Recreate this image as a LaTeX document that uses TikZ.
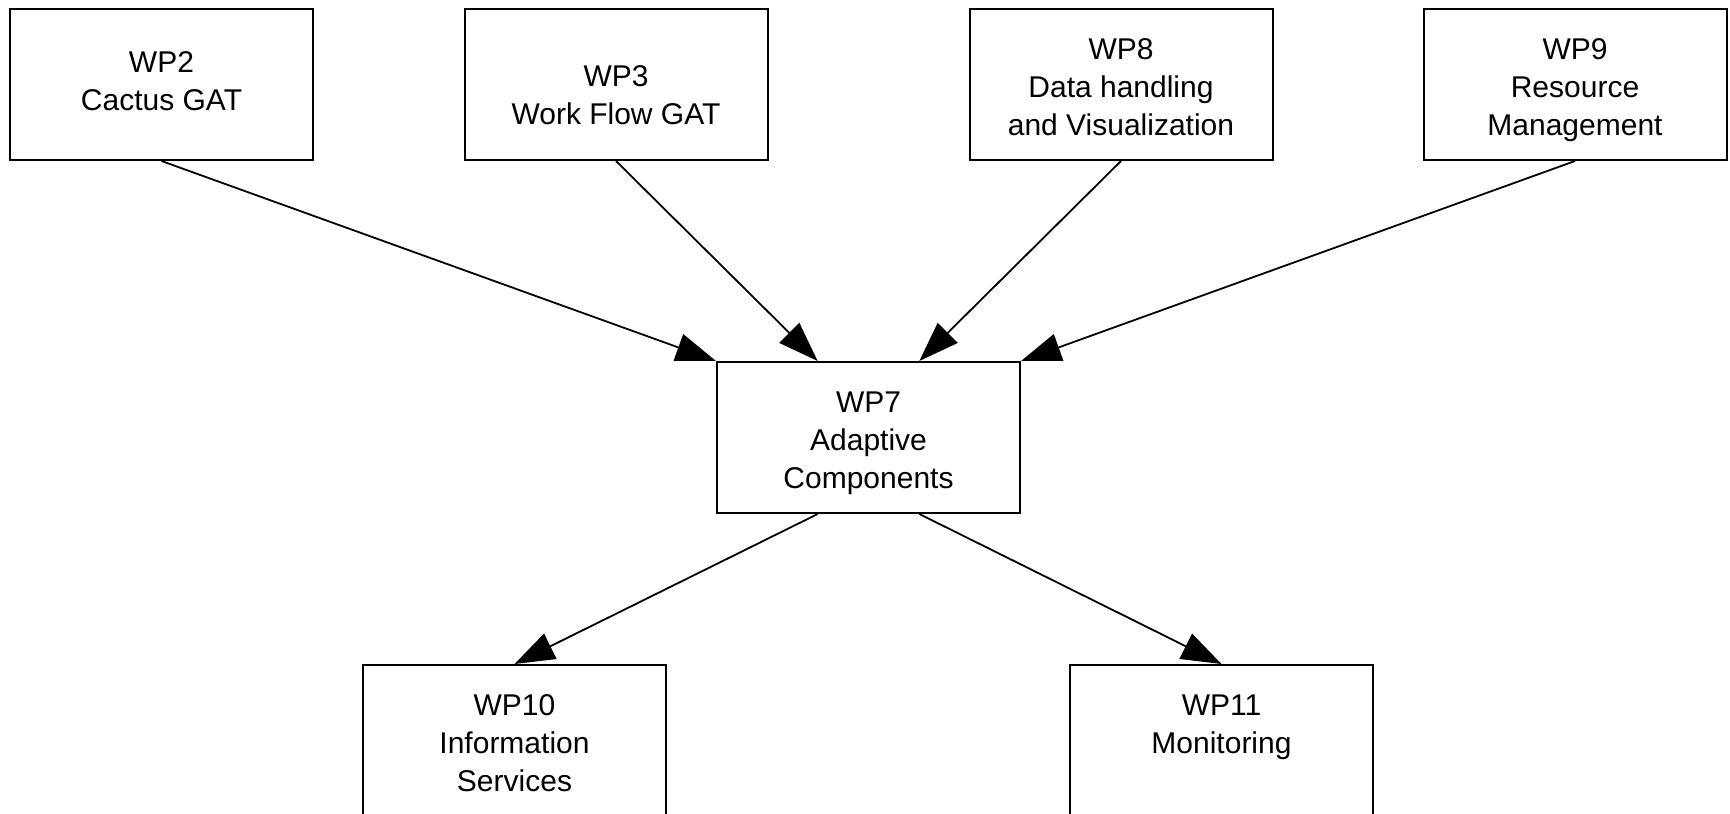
\documentclass[tikz,border=0pt]{standalone}
\usepackage{fontspec}
\setmainfont{Liberation Sans}
\usetikzlibrary{arrows.meta,calc}
\tikzstyle{wp} = [rectangle, draw=black, line width=1pt, minimum width=151.5pt, minimum height=75.5pt, inner sep=0pt, align=center, font=\fontsize{15}{19}\selectfont]
\tikzstyle{dep} = [-{Triangle[length=20pt,width=14pt]}, line width=0.9pt]
\newcommand{\tp}[1][17pt]{\rule{0pt}{#1}}
\newcommand{\bt}[1][4pt]{\rule[-#1]{0pt}{#1}}

\begin{document}
\begin{tikzpicture}[x=0.5pt, y=-0.5pt]%
			\useasboundingbox (0,0) rectangle (1730,814);%
			% top row
			\node [wp] (wp2) at (161.5,84.5) {\tp[15pt]WP2\\Cactus GAT\bt[8.5pt]};%
			\node [wp] (wp3) at (616,84.5) {\tp[24.5pt]WP3\\Work Flow GAT\bt};%
			\node [wp] (wp8) at (1121,84.5) {\tp WP8\\Data handling\\and Visualization\bt};%
			\node [wp] (wp9) at (1575,84.5) {\tp WP9\\Resource\\Management\bt};%
			% middle
			\node [wp] (wp7) at (868.5,437.5) {\tp WP7\\Adaptive\\Components\bt};%
			% bottom row
			\node [wp] (wp10) at (514.5,740.5) {\tp WP10\\Information\\Services\bt};%
			\node [wp] (wp11) at (1221.5,740.5) {\tp WP11\\Monitoring\\\bt};%
			% dependencies
			\draw [dep] (wp2.south) -- (wp7.north west);%
			\draw [dep] (wp3.south) -- ($(wp7.north west)!1/3!(wp7.north east)$);%
			\draw [dep] (wp8.south) -- ($(wp7.north west)!2/3!(wp7.north east)$);%
			\draw [dep] (wp9.south) -- (wp7.north east);%
			\draw [dep] ($(wp7.south west)!1/3!(wp7.south east)$) -- (wp10.north);%
			\draw [dep] ($(wp7.south west)!2/3!(wp7.south east)$) -- (wp11.north);%
		\end{tikzpicture}
\end{document}
